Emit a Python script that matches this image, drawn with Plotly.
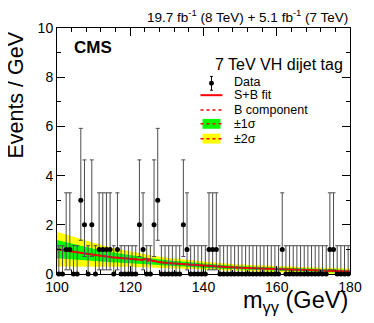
import plotly.graph_objects as go

# Observed events per 1 GeV bin, 100-180 GeV
counts = [0, 0, 1, 1, 0, 0, 3, 2, 0, 2,
          0, 1, 1, 1, 1, 0, 1, 0, 0, 0,
          0, 0, 2, 1, 0, 0, 2, 3, 0, 0,
          0, 0, 0, 0, 2, 1, 0, 0, 0, 0,
          0, 1, 1, 1, 0, 0, 0, 0, 0, 0,
          0, 0, 0, 0, 0, 0, 0, 0, 0, 0,
          0, 1, 0, 0, 0, 0, 0, 0, 0, 0,
          0, 0, 0, 0, 1, 1, 0, 0, 0, 0]
bin_lo = 100
bin_width = 1

# Poisson interval edges by count (0..3)
poisson_lo = [0.0, 0.17, 0.71, 1.37]
poisson_hi = [1.15, 3.30, 4.64, 5.92]

# Background component and bands
band_mass = [100, 105, 110, 115, 120, 125, 130, 135, 140, 145, 150, 155, 160, 165, 170, 175, 180]
bkg = [1.01, 0.89, 0.78, 0.68, 0.60, 0.52, 0.45, 0.39, 0.34, 0.29, 0.25, 0.22, 0.19, 0.16, 0.14, 0.12, 0.10]
sig1 = [0.37, 0.31, 0.25, 0.20, 0.16, 0.13, 0.11, 0.10, 0.09, 0.08, 0.07, 0.07, 0.06, 0.06, 0.06, 0.06, 0.06]
sig2 = [0.71, 0.60, 0.49, 0.39, 0.31, 0.25, 0.21, 0.19, 0.17, 0.15, 0.14, 0.13, 0.12, 0.12, 0.12, 0.12, 0.12]

# S+B fit
sb_mass = [100, 105, 110, 115, 120, 122, 123, 124, 125, 126, 127, 128, 130, 135, 140, 145, 150, 155, 160, 165, 170, 175, 180]
sb_fit = [1.01, 0.89, 0.78, 0.68, 0.60, 0.57, 0.58, 0.61, 0.60, 0.55, 0.50, 0.48, 0.45, 0.39, 0.34, 0.29, 0.25, 0.22, 0.19, 0.16, 0.14, 0.12, 0.10]

FONT = "Liberation Sans, Arial, Helvetica, sans-serif"

centers = [bin_lo + bin_width * (i + 0.5) for i in range(len(counts))]
err_up = [poisson_hi[n] - n for n in counts]
err_dn = [n - poisson_lo[n] for n in counts]

fig = go.Figure()

# bands
for width, col in [(sig2, "#ffff00"), (sig1, "#00ff00")]:
    up = [b + w for b, w in zip(bkg, width)]
    lo = [max(b - w, 0) for b, w in zip(bkg, width)]
    fig.add_trace(go.Scatter(x=band_mass + band_mass[::-1], y=up + lo[::-1],
                             fill="toself", fillcolor=col, line=dict(width=0),
                             mode="lines", hoverinfo="skip"))

fig.add_trace(go.Scatter(x=band_mass, y=bkg, mode="lines",
                         line=dict(color="#ff0000", width=1.5, dash="dot")))
fig.add_trace(go.Scatter(x=sb_mass, y=sb_fit, mode="lines",
                         line=dict(color="#ff0000", width=2)))

fig.add_trace(go.Scatter(
    x=centers, y=counts, mode="markers",
    marker=dict(color="black", size=5),
    error_y=dict(type="data", symmetric=False, array=err_up, arrayminus=err_dn,
                 color="#4d4d4d", thickness=1, width=2),
    cliponaxis=False))

# plot area in window px: x 57..351, y 25..274
def px(x):
    return (x - 57) / 294


def py(y):
    return (274 - y) / 249


shapes = []
# legend: Data
shapes.append(dict(type="line", xref="paper", yref="paper", x0=px(212), x1=px(212),
                   y0=py(74), y1=py(88), line=dict(color="black", width=1)))
for yy in (74, 88):
    shapes.append(dict(type="line", xref="paper", yref="paper", x0=px(210.5), x1=px(213.5),
                       y0=py(yy), y1=py(yy), line=dict(color="black", width=1)))
shapes.append(dict(type="circle", xref="paper", yref="paper", x0=px(209.5), x1=px(214.5),
                   y0=py(83.5), y1=py(78.5), fillcolor="black", line=dict(width=0)))
# S+B
shapes.append(dict(type="line", xref="paper", yref="paper", x0=px(201), x1=px(223),
                   y0=py(93), y1=py(93), line=dict(color="#ff0000", width=2)))
# B component
shapes.append(dict(type="line", xref="paper", yref="paper", x0=px(201), x1=px(223),
                   y0=py(108), y1=py(108), line=dict(color="#ff0000", width=1.5, dash="dot")))
# bands
for y_top, y_bot, y_mid, col in [(117, 127, 122, "#00ff00"), (132, 142, 137, "#ffff00")]:
    shapes.append(dict(type="rect", xref="paper", yref="paper", x0=px(203), x1=px(221),
                       y0=py(y_bot), y1=py(y_top), fillcolor=col, line=dict(width=0)))
    shapes.append(dict(type="line", xref="paper", yref="paper", x0=px(201), x1=px(223),
                       y0=py(y_mid), y1=py(y_mid), line=dict(color="#ff0000", width=1.5, dash="dot")))

annotations = []
for txt, yy in [("Data", 80), ("S+B fit", 93), ("B component", 108), ("±1σ", 122), ("±2σ", 137)]:
    annotations.append(dict(text=txt, xref="paper", yref="paper", x=px(233), y=py(yy),
                            xanchor="left", yanchor="middle", showarrow=False,
                            font=dict(family=FONT, size=12.5, color="black")))

annotations += [
    dict(text="<b>CMS</b>", xref="paper", yref="paper", x=px(72), y=py(45),
         xanchor="left", yanchor="middle", showarrow=False,
         font=dict(family=FONT, size=17, color="black")),
    dict(text="7 TeV VH dijet tag", xref="paper", yref="paper", x=px(346), y=py(62),
         xanchor="right", yanchor="middle", showarrow=False,
         font=dict(family=FONT, size=16, color="black")),
    dict(text="19.7 fb<sup>-1</sup> (8 TeV) + 5.1 fb<sup>-1</sup> (7 TeV)",
         xref="paper", yref="paper", x=1, y=py(13), xanchor="right", yanchor="middle",
         showarrow=False, font=dict(family=FONT, size=13.5, color="black")),
    dict(text="m<sub>γγ</sub> (GeV)", xref="paper", yref="paper", x=1, y=py(302),
         xanchor="right", yanchor="middle", showarrow=False,
         font=dict(family=FONT, size=23.5, color="black")),
    dict(text="Events / GeV", xref="paper", yref="paper", x=px(16), y=py(27),
         xanchor="center", yanchor="top", textangle=-90, showarrow=False,
         font=dict(family=FONT, size=21.5, color="black")),
]

axis_common = dict(showgrid=False, zeroline=False, showline=True, linecolor="black",
                   linewidth=1, mirror="allticks", ticks="inside", tickcolor="black",
                   tickfont=dict(family=FONT, size=14, color="black"))

# the page body adds an 8 px offset, so the figure is 8 px smaller on each axis
fig.update_layout(
    width=366, height=315,
    margin=dict(l=49, r=23, t=17, b=49),
    paper_bgcolor="white", plot_bgcolor="white",
    showlegend=False,
    shapes=shapes, annotations=annotations,
    xaxis=dict(range=[100, 180], dtick=20, ticklen=8,
               minor=dict(ticks="inside", dtick=4, ticklen=4, tickcolor="black"),
               **axis_common),
    yaxis=dict(range=[0, 10], dtick=2, ticklen=8,
               minor=dict(ticks="inside", dtick=1, ticklen=4, tickcolor="black"),
               **axis_common),
)

fig.write_html("out.html")
